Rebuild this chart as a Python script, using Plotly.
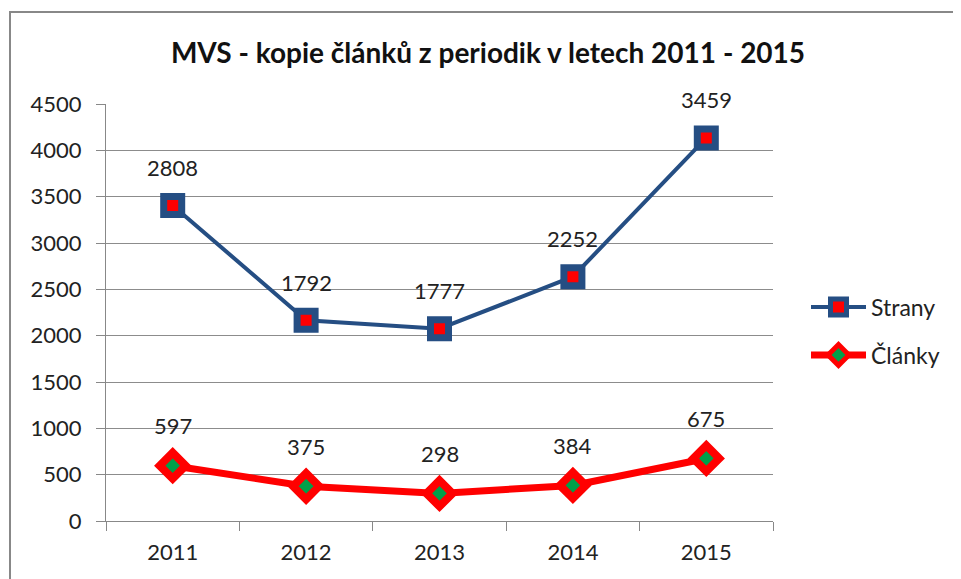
import numpy as np
import plotly.graph_objects as go

years = ["2011", "2012", "2013", "2014", "2015"]
clanky = [597, 375, 298, 384, 675]
strany = [2808, 1792, 1777, 2252, 3459]
y_ticks = [0, 500, 1000, 1500, 2000, 2500, 3000, 3500, 4000, 4500]

FONT = "Lato"
BLUE = "#254E83"
RED = "#FF0000"
GREEN = "#00A04A"
TXT = "#222222"

# stacked line chart: Strany is drawn on top of Články
strany_stacked = (np.array(clanky) + np.array(strany)).tolist()
xpos = list(range(len(years)))
bounds = [i - 0.5 for i in range(len(years) + 1)]

fig = go.Figure()
fig.add_trace(go.Scatter(
    x=xpos, y=strany_stacked, name="Strany",
    mode="lines+markers",
    line=dict(color=BLUE, width=4),
    marker=dict(symbol="square", size=18, color=RED, line=dict(color=BLUE, width=7)),
    legend="legend",
))
fig.add_trace(go.Scatter(
    x=xpos, y=clanky, name="Články",
    mode="lines+markers",
    line=dict(color=RED, width=7),
    marker=dict(symbol="diamond", size=20, color=GREEN, line=dict(color=RED, width=8)),
    legend="legend2",
))

ann = []
for x, v, yy in zip(xpos, clanky, clanky):
    ann.append(dict(x=x, y=yy, text=str(v), showarrow=False, yshift=40,
                    font=dict(family=FONT, size=22, color=TXT)))
for x, v, yy in zip(xpos, strany, strany_stacked):
    ann.append(dict(x=x, y=yy, text=str(v), showarrow=False, yshift=38,
                    font=dict(family=FONT, size=22, color=TXT)))

# page has an 8px body margin; work in page pixels
OFF = 8
W, H = 961 - OFF, 579 - OFF
PX0, PX1, PY0, PY1 = 106, 773, 104, 521   # plot area in page pixels
L, T = PX0 - OFF, PY0 - OFF
pw, ph = PX1 - PX0, PY1 - PY0
R, B = W - L - pw, H - T - ph


def px(x):
    return (x - PX0) / pw


def py(y):
    return (PY1 - y) / ph


frame = dict(type="rect", xref="paper", yref="paper",
             x0=px(10), x1=px(975), y0=py(600), y1=py(12),
             line=dict(color="#888888", width=2), fillcolor="rgba(0,0,0,0)", layer="below")

fig.update_layout(
    width=W, height=H,
    margin=dict(l=L, r=R, t=T, b=B),
    paper_bgcolor="white", plot_bgcolor="white",
    title=dict(text="<b>MVS - kopie článků z periodik v letech 2011 - 2015</b>",
               x=(488 - OFF) / W, xanchor="center", y=1 - (53 - OFF) / H, yanchor="middle",
               font=dict(family=FONT, size=28, color="#111")),
    font=dict(family=FONT, size=22, color=TXT),
    xaxis=dict(range=[bounds[0], bounds[-1]], tickvals=xpos, ticktext=years,
               showline=True, linecolor="#888888", linewidth=1,
               ticks="", showgrid=False, zeroline=False, tickangle=0,
               ticklabelstandoff=12,
               minor=dict(tickvals=bounds, ticks="outside", ticklen=9, tickcolor="#888888",
                          showgrid=False),
               tickfont=dict(family=FONT, size=22, color=TXT)),
    yaxis=dict(range=[0, 4500], tickvals=y_ticks, showline=True, linecolor="#888888",
               linewidth=1, ticks="outside", ticklen=9, tickcolor="#888888",
               ticklabelstandoff=10,
               gridcolor="#8C8C8C", gridwidth=1, zeroline=False,
               tickfont=dict(family=FONT, size=22, color=TXT)),
    legend=dict(x=px(806), y=py(307), xanchor="left", yanchor="middle", itemwidth=55,
                font=dict(family=FONT, size=23, color=TXT), bgcolor="rgba(0,0,0,0)"),
    legend2=dict(x=px(806), y=py(355), xanchor="left", yanchor="middle", itemwidth=55,
                 font=dict(family=FONT, size=23, color=TXT), bgcolor="rgba(0,0,0,0)"),
    annotations=ann,
    shapes=[frame],
    showlegend=True,
)

fig.write_html("out.html")
